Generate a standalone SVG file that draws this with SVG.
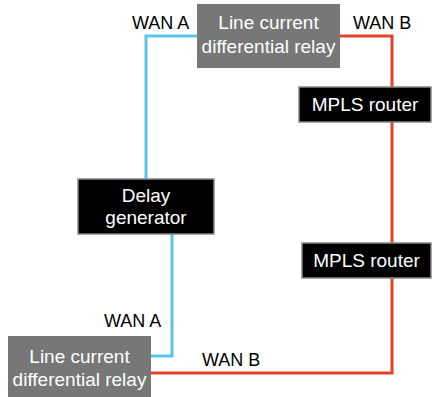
<svg xmlns="http://www.w3.org/2000/svg" width="432" height="397" viewBox="0 0 432 397">
<style>
text{font-family:"Liberation Sans",Arial,sans-serif;}
.lbl{font-size:18px;fill:#000;}
.bt{font-size:19px;fill:#fff;text-anchor:middle;}
.relay{fill:#777777;}
.blk{fill:#000;stroke:#888;stroke-width:1.5;}
.blue{fill:none;stroke:#5BC3EA;stroke-width:3;}
.red{fill:none;stroke:#E0442B;stroke-width:3;}
</style>
<rect width="432" height="397" fill="#fff"/>
<g id="connectors">
<polyline class="blue" points="197,36 146,36 146,179"/>
<polyline class="blue" points="172,234 172,356 151,356"/>
<polyline class="red" points="340,36 392,36 392,87"/>
<polyline class="red" points="392,122 392,243"/>
<polyline class="red" points="392,278 392,373 151,373"/>
</g>
<g id="labels">
<text class="lbl" x="132" y="29">WAN A</text>
<text class="lbl" x="353" y="29">WAN B</text>
<text class="lbl" x="104" y="327">WAN A</text>
<text class="lbl" x="202" y="366">WAN B</text>
</g>
<g id="relay-top">
<rect class="relay" x="197" y="4" width="143" height="64"/>
<text class="bt" x="268.5" y="29">Line current</text>
<text class="bt" x="268.5" y="53">differential relay</text>
</g>
<g id="delay-generator">
<rect class="blk" x="78" y="179" width="136" height="55"/>
<text class="bt" x="146" y="202">Delay</text>
<text class="bt" x="146" y="224">generator</text>
</g>
<g id="mpls-router-1">
<rect class="blk" x="299" y="87" width="132" height="35"/>
<text class="bt" x="365" y="111">MPLS router</text>
</g>
<g id="mpls-router-2">
<rect class="blk" x="302" y="243" width="129" height="35"/>
<text class="bt" x="366.5" y="267">MPLS router</text>
</g>
<g id="relay-bottom">
<rect class="relay" x="8" y="336" width="143" height="61"/>
<text class="bt" x="79.5" y="363">Line current</text>
<text class="bt" x="79.5" y="386">differential relay</text>
</g>
</svg>
